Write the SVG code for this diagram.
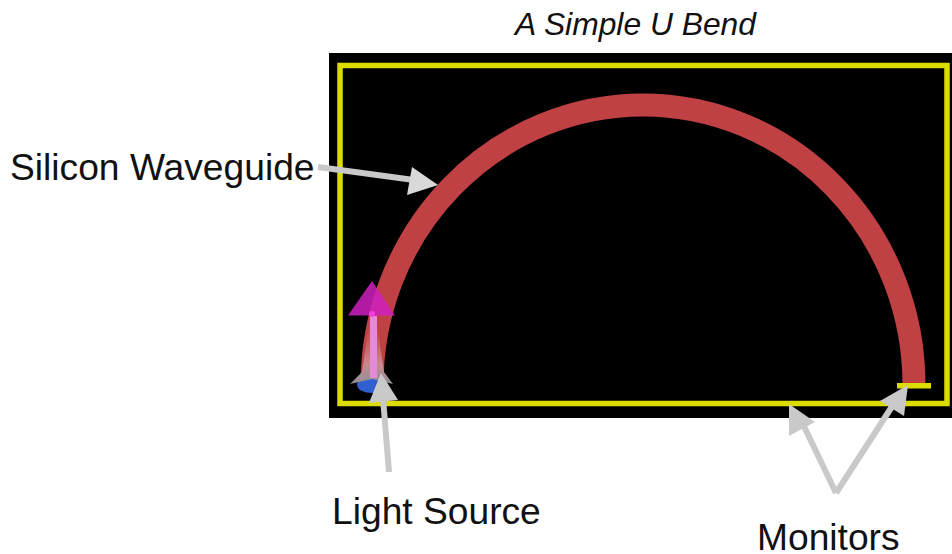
<svg xmlns="http://www.w3.org/2000/svg" width="952" height="554" viewBox="0 0 952 554">
<defs>
<style>
.t{font-family:"Liberation Sans",Arial,sans-serif;font-size:37.200px;fill:#111}
.c{stroke:#c9c9c9;stroke-width:6;fill:none}
.h{fill:#c9c9c9}
</style>
<linearGradient id="glow" x1="0" y1="0" x2="0" y2="1"><stop offset="0" stop-color="#c23f42" stop-opacity=".5"/><stop offset=".7" stop-color="#c88a90"/><stop offset="1" stop-color="#8f8f95"/></linearGradient>
</defs>
<rect width="952" height="554" fill="#fff"/>
<g id="simulation">
<rect x="329" y="53" width="623" height="365" fill="#000"/>
<rect x="340" y="65.500" width="607" height="338" fill="none" stroke="#dcdc00" stroke-width="5.500"/>
<path d="M372 385A271 280 0 0 1 914 385" fill="none" stroke="#c04144" stroke-width="23"/>
</g>
<g id="monitor"><rect x="897" y="383" width="34" height="5.500" fill="#dcdc00"/></g>
<g id="light-source">
<ellipse cx="372" cy="385" rx="15" ry="8" fill="#2f5fd0"/>
<path d="M370 318L362 372L350 384L372 379L393 384L384 372L376 318Z" fill="url(#glow)"/>
<rect x="370" y="316" width="7" height="62" fill="#e58ad8"/>
<path d="M372 281L348 315.500L395 315.500Z" fill="#d020c0" fill-opacity=".85"/>
<circle cx="372" cy="314" r="3" fill="#f040e0"/>
</g>
<g id="connectors">
<path class="c" d="M318 167L414 180"/><path d="M438 185L412 167L407 195Z" fill="#d9d9d9"/>
<path class="c" d="M389 472L383 398"/><path class="h" d="M381 373L369 403L398 400Z"/>
<path class="c" d="M836 493L800 418"/><path class="h" d="M789 404L789 436L815 422Z"/>
<path class="c" d="M836 493L893 405"/><path class="h" d="M908 385L880 401L904 416Z"/>
</g>
<g id="labels">
<text x="635.500" y="35" text-anchor="middle" class="t" style="font-size:31.800px;font-style:italic">A Simple U Bend</text>
<text x="10" y="180" class="t">Silicon Waveguide</text>
<text x="332" y="524" class="t">Light Source</text>
<text x="757" y="550" class="t">Monitors</text>
</g>
</svg>
